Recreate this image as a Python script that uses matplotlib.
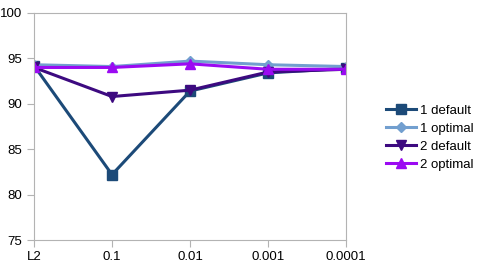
import numpy as np
import matplotlib.pyplot as plt

plt.rcParams['font.family'] = ['Liberation Sans', 'DejaVu Sans']

labels = ['L2', '0.1', '0.01', '0.001', '0.0001']
one_default = [94.2, 82.2, 91.4, 93.4, 93.9]
one_optimal = [94.3, 94.1, 94.7, 94.3, 94.1]
two_default = [94.0, 90.8, 91.5, 93.5, 93.8]
two_optimal = [94.0, 94.0, 94.4, 93.8, 93.8]

fig = plt.figure(figsize=(4.86, 2.70), dpi=100)
ax = fig.add_axes([0.070, 0.111, 0.642, 0.841])

x = np.arange(len(labels))
ax.plot(x, one_default, color='#1c4a78', lw=2.2, marker='s', ms=7, label='1 default')
ax.plot(x, one_optimal, color='#729fcf', lw=2.2, marker='D', ms=5, label='1 optimal')
ax.plot(x, two_default, color='#3d0a80', lw=2.2, marker='v', ms=7, label='2 default')
ax.plot(x, two_optimal, color='#9b0af2', lw=2.2, marker='^', ms=7, label='2 optimal')

ax.set_xlim(0, len(labels) - 1)
ax.set_ylim(75, 100)
ax.set_yticks([75, 80, 85, 90, 95, 100])
ax.set_xticks(x)
ax.set_xticklabels(labels)
for s in ax.spines.values():
    s.set_color('#b3b3b3')
ax.tick_params(colors='#b3b3b3', labelcolor='black', labelsize=9.5, length=5)
ax.tick_params(axis='x', pad=3)

fig.legend(loc='center left', bbox_to_anchor=(0.77, 0.49), frameon=False,
           fontsize=9.5, handlelength=2.3, labelspacing=0.45, handletextpad=0.3)

fig.savefig('out.png', dpi=100)
